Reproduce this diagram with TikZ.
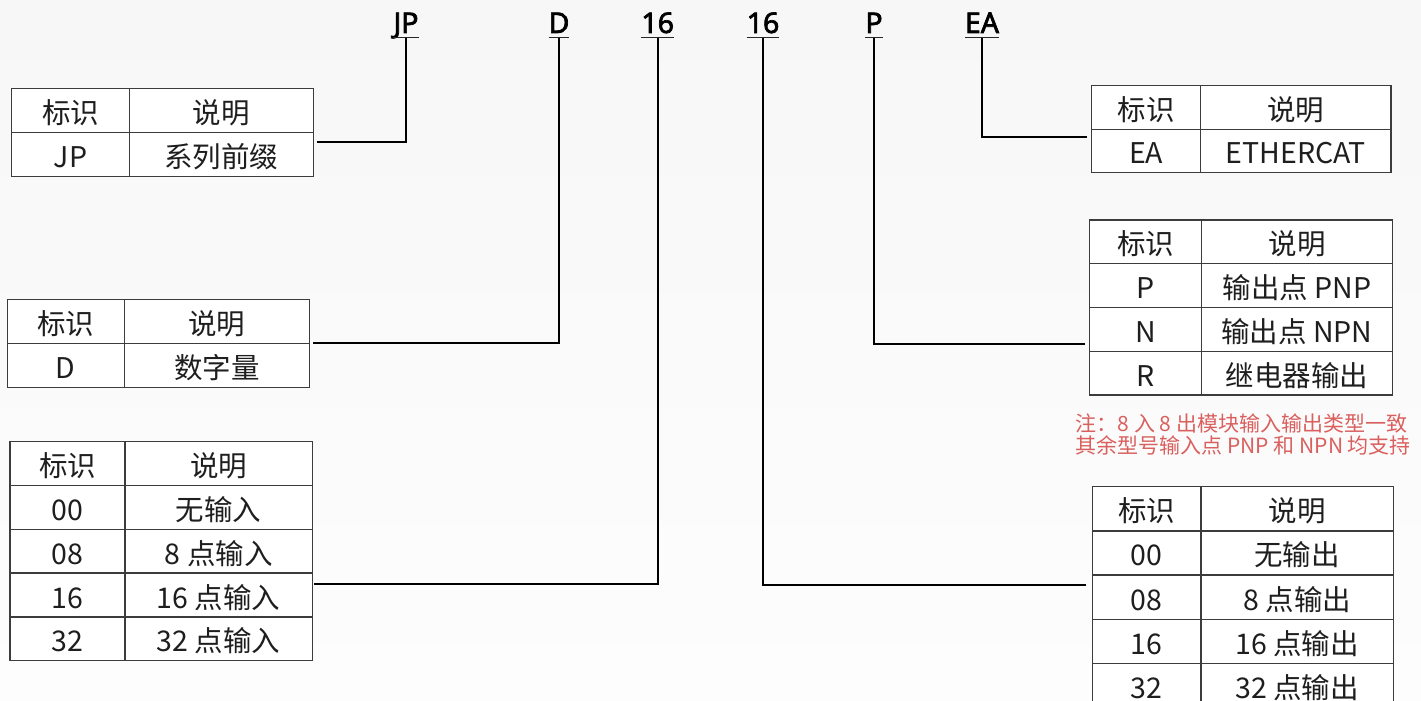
\documentclass[tikz,border=0pt]{standalone}
\usepackage{fontspec}
\setmainfont{Noto Sans CJK SC}
\newfontfamily\hdrfont{Noto Sans}[FakeBold=2.4]
\definecolor{tline}{HTML}{3C3C3C}
\definecolor{txt}{HTML}{1E1E1E}
\definecolor{notered}{RGB}{217,96,94}
\definecolor{bgtop}{HTML}{F7F7F7}
\definecolor{bgbot}{HTML}{FDFDFD}
\tikzset{
  cell/.style={draw=tline, line width=1.3pt, fill=white, inner sep=0pt, outer sep=0pt,
    anchor=north west, text height=30pt, text depth=4pt,
    font=\fontsize{28.5}{32}\selectfont, text=txt},
  hdr/.style={anchor=base, inner sep=0pt, outer sep=0pt,
    font=\hdrfont\fontsize{28.5}{32}\selectfont, text=black},
  uline/.style={line width=1.6pt, draw=black!85},
  conn/.style={line width=2pt, draw=black},
  note/.style={anchor=base west, inner sep=0pt, text=notered,
    font=\fontsize{21}{24}\selectfont}
}
\newcommand\trow[8]{%
  \node[cell, minimum width=#4pt, minimum height=#6pt] (#1a) at (#2,#3) {#7};
  \node[cell, minimum width=#5pt, minimum height=#6pt] (#1b) at (#1a.north east) {#8};}
\newcommand\hlabel[3]{%
  \node[hdr] (h#1) at (#2,33) {#3};
  \draw[uline] ([yshift=-4.7pt]h#1.base west) -- ([yshift=-4.7pt]h#1.base east);
  \coordinate (u#1) at ([yshift=-5pt]h#1.base);}
\begin{document}
\begin{tikzpicture}[x=1pt,y=-1pt]
\useasboundingbox (0,0) rectangle (1421,701);
\shade[top color=bgtop, bottom color=bgbot] (0,0) rectangle (1421,701);

% header labels
\hlabel{JP}{406}{JP}
\hlabel{D}{559}{D}
\hlabel{Ia}{657.7}{16}
\hlabel{Ib}{763}{16}
\hlabel{P}{874}{P}
\hlabel{EA}{982}{EA}

% table JP
\trow{ta0}{11.7}{88.3}{117.6}{184}{44.2}{标识}{说明}
\trow{ta1}{11.7}{132.5}{117.6}{184}{44.2}{JP}{系列前缀}

% table D
\trow{tb0}{7.3}{299.3}{117}{185}{44}{标识}{说明}
\trow{tb1}{7.3}{343.3}{117}{185}{44}{D}{数字量}

% table inputs
\trow{tc0}{10}{441.7}{115}{187.3}{43.8}{标识}{说明}
\trow{tc1}{10}{485.5}{115}{187.3}{43.8}{00}{无输入}
\trow{tc2}{10}{529.3}{115}{187.3}{43.8}{08}{8 点输入}
\trow{tc3}{10}{573.1}{115}{187.3}{43.8}{16}{16 点输入}
\trow{tc4}{10}{616.9}{115}{187.3}{43.8}{32}{32 点输入}

% table EA
\trow{td0}{1091.7}{85.7}{109}{190.3}{43.5}{标识}{说明}
\trow{td1}{1091.7}{129.2}{109}{190.3}{43.5}{EA}{ETHERCAT}

% table P
\trow{te0}{1089.3}{220}{112.4}{190.6}{43.75}{标识}{说明}
\trow{te1}{1089.3}{263.75}{112.4}{190.6}{43.75}{P}{输出点 PNP}
\trow{te2}{1089.3}{307.5}{112.4}{190.6}{43.75}{N}{输出点 NPN}
\trow{te3}{1089.3}{351.25}{112.4}{190.6}{43.75}{R}{继电器输出}

% note
\node[note] (n1) at (1075.5,431.7) {注：8 入 8 出模块输入输出类型一致};
\node[note] (n2) at (1075.5,453.5) {其余型号输入点 PNP 和 NPN 均支持};

% table outputs
\trow{tf0}{1092.3}{486.7}{108.7}{192.3}{44.15}{标识}{说明}
\trow{tf1}{1092.3}{530.85}{108.7}{192.3}{44.15}{00}{无输出}
\trow{tf2}{1092.3}{575}{108.7}{192.3}{44.15}{08}{8 点输出}
\trow{tf3}{1092.3}{619.15}{108.7}{192.3}{44.15}{16}{16 点输出}
\trow{tf4}{1092.3}{663.3}{108.7}{192.3}{44.15}{32}{32 点输出}

% connector ends
\coordinate (c1) at (316.5,142.3);
\coordinate (c2) at (313,343.3);
\coordinate (c3) at (314,584);
\coordinate (c4) at (1086,585.3);
\coordinate (c5) at (1085,344);
\coordinate (c6) at (1087,137.3);

\draw[conn] (c1) -| (uJP);
\draw[conn] (c2) -| (uD);
\draw[conn] (c3) -| (uIa);
\draw[conn] (c4) -| (uIb);
\draw[conn] (c5) -| (uP);
\draw[conn] (c6) -| (uEA);
\end{tikzpicture}
\end{document}
